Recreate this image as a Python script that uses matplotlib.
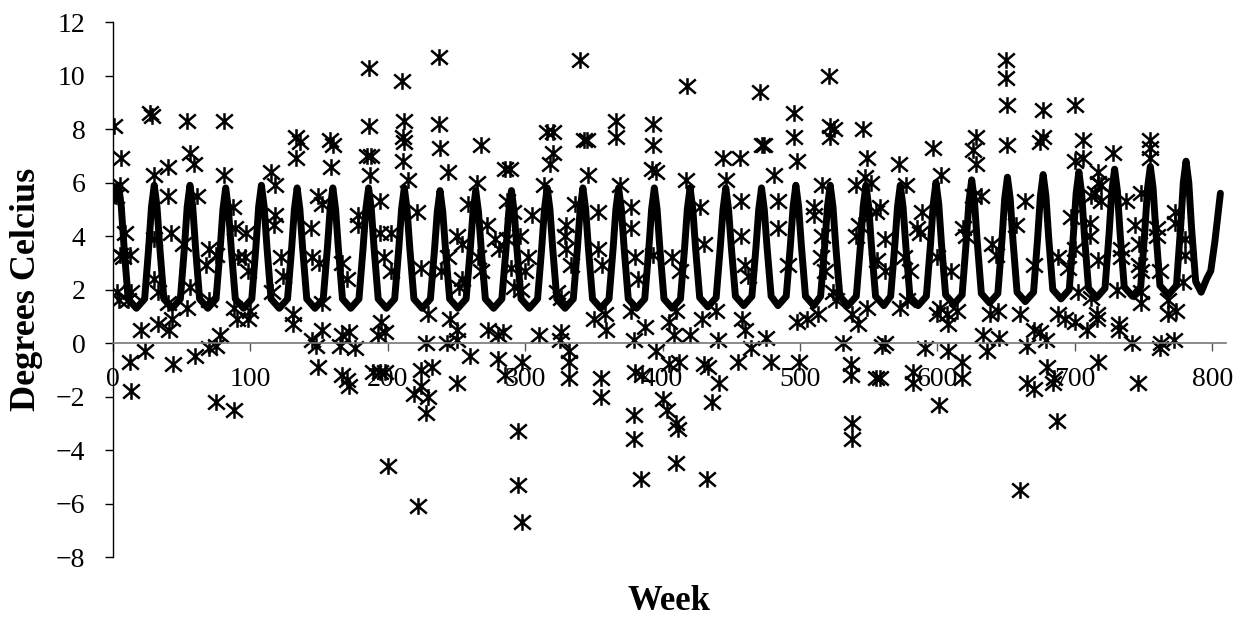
import matplotlib
matplotlib.use("Agg")
import matplotlib.pyplot as plt
from matplotlib.path import Path

plt.rcParams['font.family'] = ['Liberation Serif', 'DejaVu Serif']

# fitted seasonal curve (week, degrees)
line_weeks = [
    0, 2, 4, 6, 8, 11, 17,
    23, 26, 28, 30, 32, 34, 37, 43,
    49, 52, 54, 56, 58, 60, 63, 69,
    75, 78, 80, 82, 84, 86, 89, 95,
    101, 104, 106, 108, 110, 112, 115, 121,
    127, 130, 132, 134, 136, 138, 141, 147,
    153, 156, 158, 160, 162, 164, 167, 173,
    179, 182, 184, 186, 188, 190, 193, 199,
    205, 208, 210, 212, 214, 216, 219, 225,
    231, 234, 236, 238, 240, 242, 245, 251,
    257, 260, 262, 264, 266, 268, 271, 277,
    283, 286, 288, 290, 292, 294, 297, 303,
    309, 312, 314, 316, 318, 320, 323, 329,
    335, 338, 340, 342, 344, 346, 349, 355,
    361, 364, 366, 368, 370, 372, 375, 381,
    387, 390, 392, 394, 396, 398, 401, 407,
    413, 416, 418, 420, 422, 424, 427, 433,
    439, 442, 444, 446, 448, 450, 453, 459,
    465, 468, 470, 472, 474, 476, 479, 484,
    490, 493, 495, 497, 499, 501, 504, 510,
    515, 518, 520, 522, 524, 526, 529, 535,
    541, 544, 546, 548, 550, 552, 555, 561,
    566, 569, 571, 573, 575, 577, 580, 586,
    592, 595, 597, 599, 601, 603, 606, 612,
    618, 621, 623, 625, 627, 629, 632, 638,
    644, 647, 649, 651, 653, 655, 658, 664,
    670, 673, 675, 677, 679, 681, 684, 690,
    696, 699, 701, 703, 705, 707, 710, 716,
    722, 725, 727, 729, 731, 733, 736, 742,
    748, 751, 753, 755, 757, 759, 762, 768,
    774, 777, 779, 781, 783, 785, 788, 792,
    796, 799, 802, 806,
]
line_temps = [
    5.3, 5.7, 5.9, 5.1, 3.6, 1.65, 1.3,
    1.65, 3.6, 5.1, 5.9, 5.1, 3.6, 1.65, 1.3,
    1.65, 3.6, 5.1, 5.9, 5.1, 3.6, 1.65, 1.3,
    1.65, 3.55, 5.0, 5.8, 5.0, 3.55, 1.65, 1.3,
    1.65, 3.6, 5.1, 5.9, 5.1, 3.6, 1.65, 1.3,
    1.65, 3.55, 5.0, 5.8, 5.0, 3.55, 1.65, 1.3,
    1.65, 3.55, 5.0, 5.8, 5.0, 3.55, 1.65, 1.3,
    1.65, 3.55, 5.0, 5.8, 5.0, 3.55, 1.65, 1.3,
    1.65, 3.55, 5.0, 5.8, 5.0, 3.55, 1.65, 1.3,
    1.65, 3.5, 4.9, 5.7, 4.9, 3.5, 1.65, 1.3,
    1.65, 3.5, 4.9, 5.7, 4.9, 3.5, 1.65, 1.3,
    1.65, 3.5, 4.9, 5.7, 4.9, 3.5, 1.65, 1.3,
    1.65, 3.55, 5.0, 5.8, 5.0, 3.55, 1.65, 1.3,
    1.65, 3.55, 5.0, 5.8, 5.0, 3.55, 1.65, 1.3,
    1.65, 3.55, 5.0, 5.8, 5.0, 3.55, 1.65, 1.3,
    1.65, 3.55, 5.0, 5.8, 5.0, 3.55, 1.65, 1.3,
    1.65, 3.55, 5.0, 5.8, 5.0, 3.55, 1.7, 1.35,
    1.7, 3.6, 5.0, 5.8, 5.0, 3.6, 1.75, 1.4,
    1.75, 3.6, 5.0, 5.8, 5.0, 3.6, 1.75, 1.4,
    1.75, 3.65, 5.1, 5.9, 5.1, 3.65, 1.75, 1.4,
    1.75, 3.65, 5.1, 5.9, 5.1, 3.65, 1.75, 1.4,
    1.75, 3.65, 5.1, 5.9, 5.1, 3.65, 1.75, 1.4,
    1.75, 3.65, 5.1, 5.9, 5.1, 3.65, 1.75, 1.4,
    1.75, 3.7, 5.2, 6.0, 5.2, 3.7, 1.8, 1.45,
    1.8, 3.8, 5.3, 6.1, 5.3, 3.8, 1.85, 1.5,
    1.85, 3.85, 5.4, 6.2, 5.4, 3.85, 1.9, 1.55,
    1.9, 3.95, 5.5, 6.3, 5.5, 3.95, 2.0, 1.65,
    2.0, 4.05, 5.6, 6.4, 5.6, 4.05, 2.05, 1.7,
    2.05, 4.1, 5.7, 6.5, 5.7, 4.1, 2.1, 1.75,
    2.1, 4.2, 5.8, 6.6, 5.8, 4.2, 2.15, 1.8,
    2.15, 4.3, 6.0, 6.8, 6.0, 4.3, 2.3, 1.9,
    2.4, 2.7, 3.8, 5.6,
]

# observed weekly temperatures (week, degrees)
obs_weeks = [
    1, 27, 28, 54, 81, 6, 40, 56, 59, 81, 1, 5, 2, 30, 40, 61, 87, 9, 42, 89,
    7, 12, 5, 30, 51, 70, 75, 68, 91, 3, 4, 11, 13, 30, 33, 40, 43, 56, 54, 70,
    88, 90, 20, 33, 41, 23, 12, 13, 44, 60, 70, 75, 78, 75, 88,
    186, 186, 185, 188, 187, 133, 136, 133, 158, 160, 159, 115, 118, 149, 152, 194,
    97, 118, 117, 144, 178, 178, 194, 96, 98, 122, 124, 145, 150, 167, 170, 131,
    131, 98, 100, 116, 152, 152, 172, 167, 176, 145, 148, 165, 193, 149, 167, 172,
    170, 189, 194, 200,
    237, 210, 212, 212, 211, 211, 237, 238, 268, 285, 289, 244, 215, 265, 221, 258,
    272, 287, 291, 202, 250, 254, 278, 281, 287, 197, 202, 224, 239, 244, 254, 252,
    266, 268, 290, 292, 195, 198, 229, 245, 250, 273, 280, 284, 228, 243, 250, 260,
    280, 198, 224, 232, 219, 224, 229, 228, 250, 285, 222, 295, 295, 298,
    340, 366, 366, 393, 393, 316, 320, 320, 318, 343, 345, 346, 392, 395, 314, 369,
    305, 336, 353, 377, 377, 329, 330, 296, 302, 300, 330, 333, 353, 356, 380, 382,
    393, 297, 323, 326, 350, 358, 377, 387, 310, 326, 325, 359, 379, 332, 332, 332,
    298, 355, 355, 380, 385, 379, 379, 395, 400, 384,
    418, 471, 496, 496, 472, 474, 444, 456, 498, 417, 446, 481, 427, 457, 484, 430,
    407, 413, 457, 484, 460, 462, 491, 405, 410, 429, 439, 458, 460, 498, 408, 420,
    440, 475, 464, 412, 405, 433, 430, 441, 455, 479, 403, 410, 411, 410, 436, 432,
    521, 522, 525, 522, 546, 549, 572, 597, 541, 552, 547, 516, 577, 510, 510, 555,
    558, 589, 585, 587, 543, 541, 516, 562, 515, 518, 556, 562, 576, 580, 600, 524,
    526, 538, 542, 549, 573, 578, 600, 505, 513, 531, 560, 562, 591, 499, 537, 537,
    555, 558, 582, 582, 601, 538, 538,
    650, 650, 651, 677, 700, 628, 626, 628, 651, 677, 675, 700, 603, 626, 632, 664,
    697, 619, 621, 643, 640, 657, 670, 688, 695, 700, 610, 602, 607, 614, 638, 644,
    660, 670, 675, 688, 693, 700, 608, 633, 645, 636, 665, 679, 608, 618, 618, 665,
    670, 680, 685, 684, 687, 660,
    706, 706, 728, 755, 755, 755, 717, 717, 712, 715, 719, 719, 737, 744, 748, 711,
    711, 773, 773, 760, 760, 747, 734, 734, 780, 780, 717, 747, 748, 762, 779, 702,
    712, 731, 748, 748, 768, 768, 774, 716, 716, 709, 732, 732, 742, 763, 762, 772,
    717, 746,
]
obs_temps = [
    8.1, 8.6, 8.5, 8.3, 8.3, 6.9, 6.6, 7.1, 6.7, 6.3, 5.7, 5.9, 5.5, 6.3, 5.5, 5.5, 5.1, 4.1, 4.1, 4.3,
    3.2, 3.3, 3.3, 3.9, 3.7, 3.5, 3.3, 2.9, 3.2, 1.9, 1.6, 1.6, 1.9, 2.4, 1.9, 1.5, 0.9, 2.1, 1.3, 1.6,
    1.3, 0.9, 0.5, 0.7, 0.5, -0.3, -0.7, -1.8, -0.8, -0.5, -0.2, -0.1, 0.3, -2.2, -2.5,
    10.3, 8.1, 7.0, 7.0, 6.3, 7.7, 7.5, 6.9, 7.6, 7.4, 6.6, 6.4, 5.9, 5.5, 5.2, 5.3,
    4.1, 4.8, 4.4, 4.3, 4.4, 4.8, 4.1, 3.2, 2.7, 3.2, 2.5, 3.2, 3.0, 3.0, 2.4, 1.1,
    0.7, 0.9, 1.2, 1.9, 1.5, 0.5, 0.4, 0.3, -0.2, 0.1, -0.1, -0.1, 0.3, -0.9, -1.2, -1.6,
    -1.4, -1.1, -1.1, -4.6,
    10.7, 9.8, 8.3, 7.5, 7.7, 6.8, 8.2, 7.3, 7.4, 6.5, 6.5, 6.4, 6.1, 6.0, 4.9, 5.2,
    4.4, 5.3, 4.9, 4.1, 4.0, 3.7, 3.9, 3.5, 3.9, 3.2, 2.7, 2.8, 2.7, 3.2, 2.4, 2.1,
    3.2, 2.7, 2.8, 2.1, 0.8, 0.4, 1.1, 0.9, 0.5, 0.5, 0.3, 0.4, 0.0, 0.0, 0.1, -0.5,
    -0.6, -1.1, -1.0, -0.9, -1.9, -1.6, -2.0, -2.6, -1.5, -1.2, -6.1, -3.3, -5.3, -6.7,
    10.6, 8.3, 7.7, 8.2, 7.4, 7.9, 7.9, 7.1, 6.7, 7.6, 7.6, 6.3, 6.5, 6.4, 5.9, 5.9,
    4.8, 5.2, 4.9, 5.1, 4.3, 4.0, 4.4, 4.0, 3.2, 2.7, 3.5, 2.9, 3.5, 2.9, 3.2, 2.4,
    3.3, 2.0, 1.9, 1.7, 0.9, 1.1, 1.2, 0.6, 0.3, 0.4, 0.1, 0.5, 0.1, -0.3, -0.7, -1.3,
    -0.7, -1.3, -2.0, -1.1, -1.2, -2.7, -3.6, -0.3, -2.1, -5.1,
    9.6, 9.4, 8.6, 7.7, 7.4, 7.4, 6.9, 6.9, 6.8, 6.1, 6.1, 6.3, 5.1, 5.3, 5.3, 3.7,
    3.2, 2.7, 4.0, 4.3, 2.9, 2.5, 2.9, 0.8, 1.2, 0.9, 1.2, 0.9, 0.5, 0.8, 0.3, 0.3,
    0.1, 0.2, -0.2, -0.7, -0.8, -0.9, -0.8, -1.5, -0.7, -0.7, -2.5, -3.0, -3.2, -4.5, -2.2, -5.1,
    10.0, 8.1, 8.0, 7.7, 8.0, 6.9, 6.7, 7.3, 5.9, 6.0, 6.2, 5.9, 5.9, 5.1, 4.8, 4.9,
    5.1, 4.9, 4.3, 4.1, 4.4, 4.0, 4.0, 3.9, 3.2, 2.7, 3.1, 2.7, 3.2, 2.7, 3.2, 1.9,
    1.6, 1.1, 0.7, 1.3, 1.3, 1.6, 1.1, 0.9, 1.1, 0.0, -0.1, 0.0, -0.2, -0.7, -0.8, -1.2,
    -1.3, -1.3, -1.1, -1.5, -2.3, -3.0, -3.6,
    10.6, 9.9, 8.9, 8.7, 8.9, 7.7, 7.2, 6.7, 7.4, 7.7, 7.5, 6.8, 6.3, 5.5, 5.5, 5.3,
    4.7, 4.3, 4.0, 3.3, 3.7, 4.4, 2.9, 3.2, 2.8, 3.5, 2.7, 1.3, 1.1, 1.2, 1.1, 1.2,
    1.1, 0.5, 0.4, 1.1, 0.9, 0.8, 0.7, 0.3, 0.2, -0.3, -0.1, 0.1, -0.3, -0.7, -1.3, -1.5,
    -1.7, -0.9, -1.3, -1.5, -2.9, -5.5,
    7.6, 6.9, 7.1, 7.6, 7.3, 6.9, 6.4, 6.0, 5.5, 5.6, 5.9, 5.3, 5.3, 4.4, 5.6, 4.5,
    4.0, 4.9, 4.5, 4.3, 4.0, 3.7, 3.5, 3.2, 3.9, 3.3, 3.1, 2.9, 2.7, 2.7, 2.3, 1.9,
    1.7, 2.0, 1.9, 1.5, 1.6, 1.1, 1.2, 1.1, 0.9, 0.5, 0.7, 0.5, 0.0, 0.0, -0.2, 0.1,
    -0.7, -1.5,
]

x_ticks = [0, 100, 200, 300, 400, 500, 600, 700, 800]
y_ticks = [-8, -6, -4, -2, 0, 2, 4, 6, 8, 10, 12]

# Excel style asterisk: an X with a vertical bar
star = Path([(0, -1), (0, 1), (-1, -0.85), (1, 0.85), (-1, 0.85), (1, -0.85)],
            [Path.MOVETO, Path.LINETO, Path.MOVETO, Path.LINETO, Path.MOVETO, Path.LINETO])

fig = plt.figure(figsize=(12.49, 6.22), dpi=100)
ax = fig.add_axes([0.0905, 0.1045, 0.891, 0.860])

ax.plot(obs_weeks, obs_temps, ls='none', marker=star, ms=12, mew=1.8,
        mec='black', mfc='none', zorder=2)
ax.plot(line_weeks, line_temps, color='black', lw=5,
        solid_joinstyle='round', solid_capstyle='round', zorder=3)

ax.set_xlim(0, 810)
ax.set_ylim(-8, 12)
ax.set_xticks(x_ticks)
ax.set_yticks(y_ticks)

ax.spines['top'].set_visible(False)
ax.spines['right'].set_visible(False)
ax.spines['bottom'].set_position(('data', 0))
ax.spines['bottom'].set_color('#777777')
ax.spines['bottom'].set_linewidth(1.2)
ax.spines['left'].set_linewidth(1.0)

ax.tick_params(axis='x', direction='out', length=6, width=1, colors='#555555',
               labelcolor='black', labelsize=20, pad=11)
ax.tick_params(axis='y', direction='out', length=6, width=1,
               labelsize=20, pad=14)

ax.set_xlabel('Week', fontsize=25, fontweight='bold')
ax.set_ylabel('Degrees Celcius', fontsize=26, fontweight='bold')
ax.xaxis.set_label_coords(0.5, -0.052)
ax.yaxis.set_label_coords(-0.0625, 0.5)

fig.savefig('out.png', dpi=100, facecolor='white')
